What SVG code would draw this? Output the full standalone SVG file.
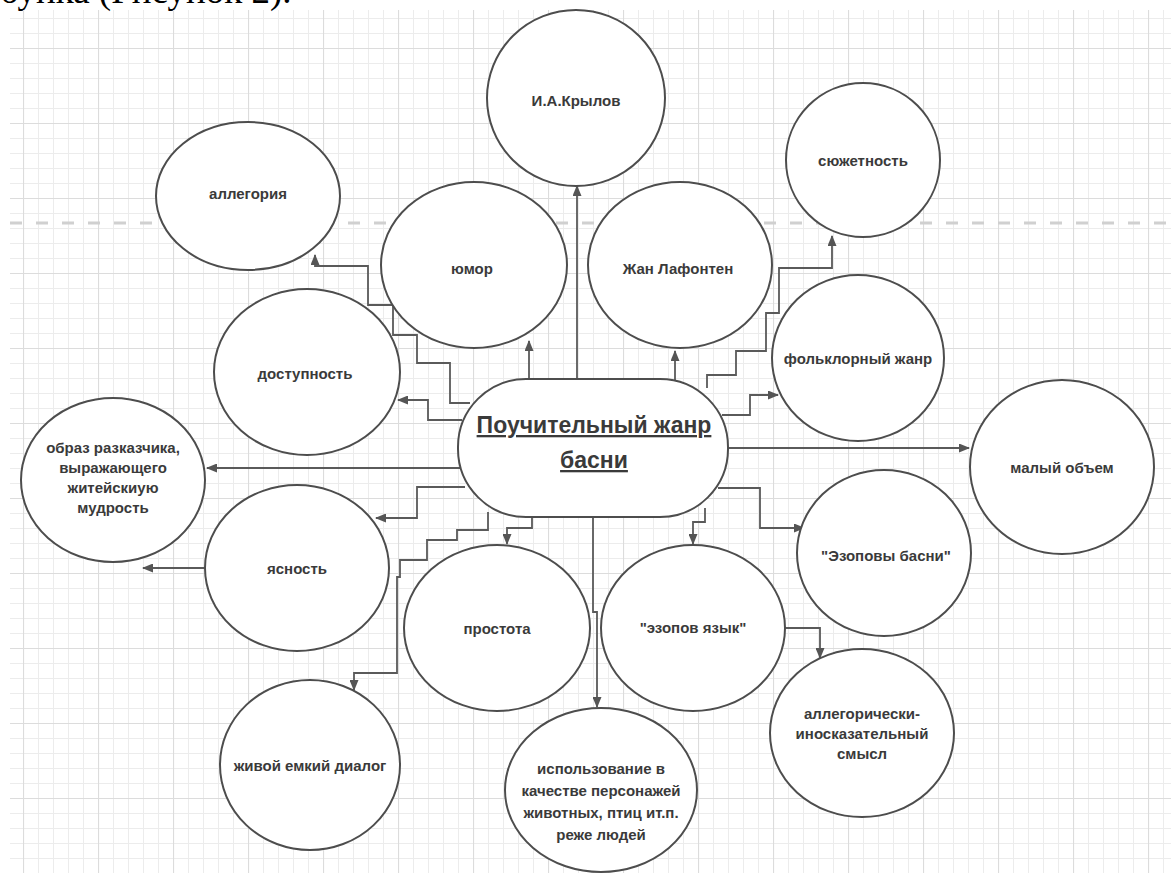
<svg xmlns="http://www.w3.org/2000/svg" width="1171" height="873" viewBox="0 0 1171 873">
<defs>
<pattern id="gMinor" patternUnits="userSpaceOnUse" x="23" y="18" width="15" height="15"><path d="M0 0.5 H15 M0.5 0 V15" stroke="#ececec" stroke-width="1" fill="none"/></pattern>
<pattern id="gMajor" patternUnits="userSpaceOnUse" x="23" y="48" width="75" height="75"><path d="M0 0.5 H75 M0.5 0 V75" stroke="#dcdcdc" stroke-width="1.2" fill="none"/></pattern>
<marker id="arr" markerUnits="userSpaceOnUse" markerWidth="11" markerHeight="9" refX="10" refY="4.5" orient="auto"><path d="M0,0 L11,4.5 L0,9 z" fill="#555"/></marker>
</defs>
<style>
.node ellipse{fill:#fff;stroke:#4d4d4d;stroke-width:2}
.node text{font-family:"Liberation Sans",Arial,sans-serif;font-weight:bold;font-size:15px;fill:#3a3a3a;text-anchor:middle;dominant-baseline:central}
.conn path{fill:none;stroke:#5a5a5a;stroke-width:1.8;marker-end:url(#arr)}
</style>
<rect width="1171" height="873" fill="#fff"/>
<text x="0" y="3" font-family="Liberation Serif,'Times New Roman',serif" font-size="37" fill="#000">бунка (Рисунок 2).</text>
<rect x="10" y="10" width="1161" height="863" fill="url(#gMinor)"/>
<rect x="10" y="10" width="1161" height="863" fill="url(#gMajor)"/>
<line x1="10" y1="223" x2="1171" y2="223" stroke="#d0d0d0" stroke-width="3" stroke-dasharray="12 14"/>

<g id="connectors" class="conn">
<path d="M470 403 H450 V363 H417 V335 H393 V305 H368 V266 H315 V255"/>
<path d="M462 420 H428 V400 H398"/>
<path d="M529 380 V341"/>
<path d="M577 380 V186"/>
<path d="M675 380 V351"/>
<path d="M707 388 V375 H736 V351 H766 V313 H779 V268 H832 V236"/>
<path d="M722 415 H750 V395 H778"/>
<path d="M460 468 H207"/>
<path d="M465 487 H417 V518 H376"/>
<path d="M205 568 H143"/>
<path d="M488 512 V530 H457 V540 H427 V560 H400 V577 H397 V673 H354 V690"/>
<path d="M532 515 V528 H507 V544"/>
<path d="M593 517 V612 H597 V707"/>
<path d="M705 508 V522 H693 V544"/>
<path d="M718 488 H760 V528 H804"/>
<path d="M728 448 H969"/>
<path d="M785 628 H820 V658"/>
</g>

<g id="n-krylov" class="node"><ellipse cx="576" cy="98" rx="89" ry="88"/><text x="576" y="100">И.А.Крылов</text></g>
<g id="n-syuzhet" class="node"><ellipse cx="863" cy="160" rx="77" ry="77"/><text x="863" y="160">сюжетность</text></g>
<g id="n-allegoria" class="node"><ellipse cx="248" cy="196" rx="92" ry="74"/><text x="248" y="193">аллегория</text></g>
<g id="n-humor" class="node"><ellipse cx="474" cy="265" rx="93" ry="83"/><text x="472" y="268">юмор</text></g>
<g id="n-lafonten" class="node"><ellipse cx="680" cy="265" rx="92" ry="83"/><text x="678" y="268">Жан Лафонтен</text></g>
<g id="n-dostup" class="node"><ellipse cx="307" cy="372" rx="93" ry="83"/><text x="305" y="373">доступность</text></g>
<g id="n-folk" class="node"><ellipse cx="858" cy="358" rx="86" ry="83"/><text x="858" y="358">фольклорный жанр</text></g>
<g id="n-center"><rect x="458" y="379" width="270" height="138" rx="68" ry="68" fill="#fff" stroke="#4d4d4d" stroke-width="2"/>
<text x="594" y="433" font-family="Liberation Sans,Arial,sans-serif" font-weight="bold" font-size="23" fill="#3a3a3a" text-anchor="middle" text-decoration="underline">Поучительный жанр</text>
<text x="594" y="468" font-family="Liberation Sans,Arial,sans-serif" font-weight="bold" font-size="23" fill="#3a3a3a" text-anchor="middle" text-decoration="underline">басни</text></g>
<g id="n-maly" class="node"><ellipse cx="1062" cy="467" rx="92" ry="87"/><text x="1062" y="467">малый объем</text></g>
<g id="n-obraz" class="node"><ellipse cx="113" cy="480" rx="92" ry="82"/><text x="113" y="447">образ разказчика,</text><text x="113" y="467">выражающего</text><text x="113" y="487">житейскиую</text><text x="113" y="507">мудрость</text></g>
<g id="n-yasnost" class="node"><ellipse cx="297" cy="568" rx="92" ry="83"/><text x="297" y="568">ясность</text></g>
<g id="n-ezopbasni" class="node"><ellipse cx="884" cy="553" rx="87" ry="83"/><text x="886" y="555">"Эзоповы басни"</text></g>
<g id="n-prostota" class="node"><ellipse cx="497" cy="628" rx="93" ry="83"/><text x="497" y="628">простота</text></g>
<g id="n-ezopyaz" class="node"><ellipse cx="693" cy="628" rx="92" ry="83"/><text x="693" y="627">"эзопов язык"</text></g>
<g id="n-allegsmysl" class="node"><ellipse cx="862" cy="733" rx="92" ry="84"/><text x="862" y="713">аллегорически-</text><text x="862" y="733">иносказательный</text><text x="862" y="753">смысл</text></g>
<g id="n-dialog" class="node"><ellipse cx="310" cy="765" rx="90" ry="85"/><text x="310" y="765">живой емкий диалог</text></g>
<g id="n-ispolz" class="node"><ellipse cx="601" cy="790" rx="96" ry="82"/><text x="601" y="768">использование в</text><text x="601" y="790">качестве персонажей</text><text x="601" y="812">животных, птиц ит.п.</text><text x="601" y="834">реже людей</text></g>
</svg>
